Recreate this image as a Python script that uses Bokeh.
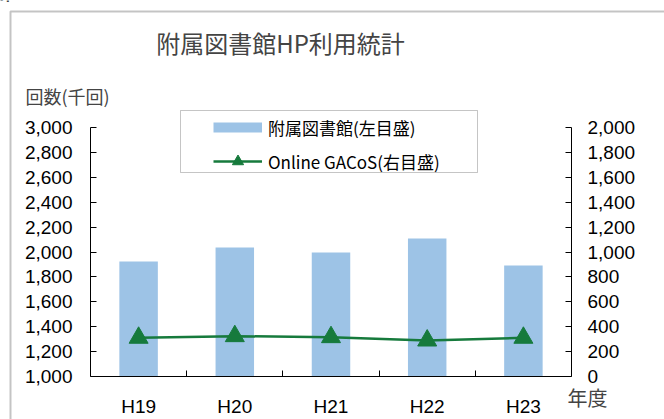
from bokeh.plotting import figure
from bokeh.models import (Range1d, LinearAxis, FixedTicker, NumeralTickFormatter,
                          Legend, LegendItem, Label, BoxAnnotation, ColumnDataSource)
from bokeh.embed import file_html
from bokeh.resources import INLINE

# ---- data (千回) ----
years = ["H19", "H20", "H21", "H22", "H23"]
library_hp = [1924, 2036, 1996, 2108, 1892]      # 附属図書館 (left axis)
online_gacos = [311, 324, 316, 289, 311]         # Online GACoS (right axis)
left_ticks = list(range(1000, 3001, 200))
right_ticks = list(range(0, 2001, 200))

# ---- layout (pixels) ----
W, H = 664, 419
PX_L, PX_R, PX_T, PX_B = 90, 571, 127, 376      # plot area edges

BAR = "#9DC3E6"
GREEN = "#167A3C"
JP = "Noto Sans CJK JP"
NUM = "Liberation Sans"

n = len(years)
xs = list(range(1, n + 1))
src = ColumnDataSource(dict(x=xs, hp=library_hp, gacos=online_gacos))

ux = (PX_R - PX_L) / n
x_lo, x_hi = 0.5, n + 0.5
l_lo, l_hi = left_ticks[0], left_ticks[-1]
r_lo, r_hi = right_ticks[0], right_ticks[-1]
uy = (PX_B - PX_T) / (l_hi - l_lo)

p = figure(width=W, height=H, min_border=0,
           x_range=Range1d(x_lo - PX_L / ux, x_hi + (W - PX_R) / ux),
           y_range=Range1d(l_lo - (H - PX_B) / uy, l_hi + PX_T / uy),
           x_axis_type=None, y_axis_type=None,
           output_backend="svg", toolbar_location=None)
p.extra_y_ranges = {"right": Range1d(r_lo - (H - PX_B) / uy, r_hi + PX_T / uy)}
p.outline_line_color = None
p.background_fill_color = "white"
p.border_fill_color = "white"


def style(ax):
    ax.major_label_text_font = NUM
    ax.major_label_text_font_size = "19px"
    ax.major_label_text_color = "black"
    ax.axis_line_color = "black"
    ax.major_tick_line_color = "black"
    ax.minor_tick_line_color = None
    ax.major_tick_in = 6
    ax.major_tick_out = 0


left = LinearAxis(ticker=FixedTicker(ticks=left_ticks), formatter=NumeralTickFormatter(format="0,0"),
                  fixed_location=x_lo, bounds=(l_lo, l_hi))
style(left)
left.major_label_standoff = 18
p.add_layout(left, "left")

right = LinearAxis(y_range_name="right", ticker=FixedTicker(ticks=right_ticks),
                   formatter=NumeralTickFormatter(format="0,0"),
                   fixed_location=x_hi, bounds=(r_lo, r_hi))
style(right)
right.major_label_standoff = 16
p.add_layout(right, "right")

bottom = LinearAxis(ticker=FixedTicker(ticks=xs, minor_ticks=[x + 0.5 for x in xs[:-1]]),
                    major_label_overrides={float(x): y for x, y in zip(xs, years)},
                    fixed_location=l_lo, bounds=(x_lo, x_hi))
style(bottom)
bottom.major_tick_line_color = None
bottom.minor_tick_line_color = "black"
bottom.minor_tick_in = 6
bottom.minor_tick_out = 0
bottom.major_label_standoff = 19
p.add_layout(bottom, "below")

bars = p.vbar(x="x", top="hp", bottom=l_lo, width=0.4, source=src,
              fill_color=BAR, line_color=None)
ln = p.line(x="x", y="gacos", y_range_name="right", source=src, line_color=GREEN, line_width=2.5)
pts = p.scatter(x="x", y="gacos", y_range_name="right", source=src, marker="triangle",
                size=19, fill_color=GREEN, line_color=GREEN)
# legend-only swatch for the bars (no drawable data)
nan = float("nan")
swatch = p.line(x=[nan], y=[nan], line_color=BAR, line_width=10, line_cap="butt")

# outer frame and legend box (screen units: from left / from bottom)
p.add_layout(BoxAnnotation(left=10, right=W + 50, top=H - 11, bottom=-50,
                           left_units="screen", right_units="screen",
                           top_units="screen", bottom_units="screen",
                           fill_color=None, fill_alpha=0, line_color="#3a3a3a", line_width=2))
p.add_layout(BoxAnnotation(left=180, right=477, top=H - 110, bottom=H - 172,
                           left_units="screen", right_units="screen",
                           top_units="screen", bottom_units="screen",
                           fill_color=None, fill_alpha=0, line_color="#404040", line_width=1))

leg = Legend(items=[LegendItem(label="附属図書館(左目盛)", renderers=[swatch]),
                    LegendItem(label="Online GACoS(右目盛)", renderers=[ln, pts])],
             location=(213, H - 175), glyph_width=49, glyph_height=28, label_height=28,
             label_standoff=6, spacing=6, padding=0, margin=0, border_line_color=None,
             background_fill_alpha=0, label_text_font=JP, label_text_font_size="17px",
             label_text_color="black")
p.add_layout(leg)

p.add_layout(Label(x=280, y=H - 42, x_units="screen", y_units="screen", text="附属図書館HP利用統計",
                   text_align="center", text_baseline="middle", text_font=JP, text_font_size="24px"))
p.add_layout(Label(x=25, y=H - 95, x_units="screen", y_units="screen", text="回数(千回)",
                   text_align="left", text_baseline="middle", text_font=JP, text_font_size="18px"))
p.add_layout(Label(x=567, y=H - 397, x_units="screen", y_units="screen", text="年度",
                   text_align="left", text_baseline="middle", text_font=JP, text_font_size="20px"))
p.add_layout(Label(x=-4, y=H - 4, x_units="screen", y_units="screen", text="計",
                   text_align="left", text_baseline="bottom", text_font=JP, text_font_size="16px",
                   text_font_style="bold"))

open("out.html", "w").write(file_html(p, INLINE))
